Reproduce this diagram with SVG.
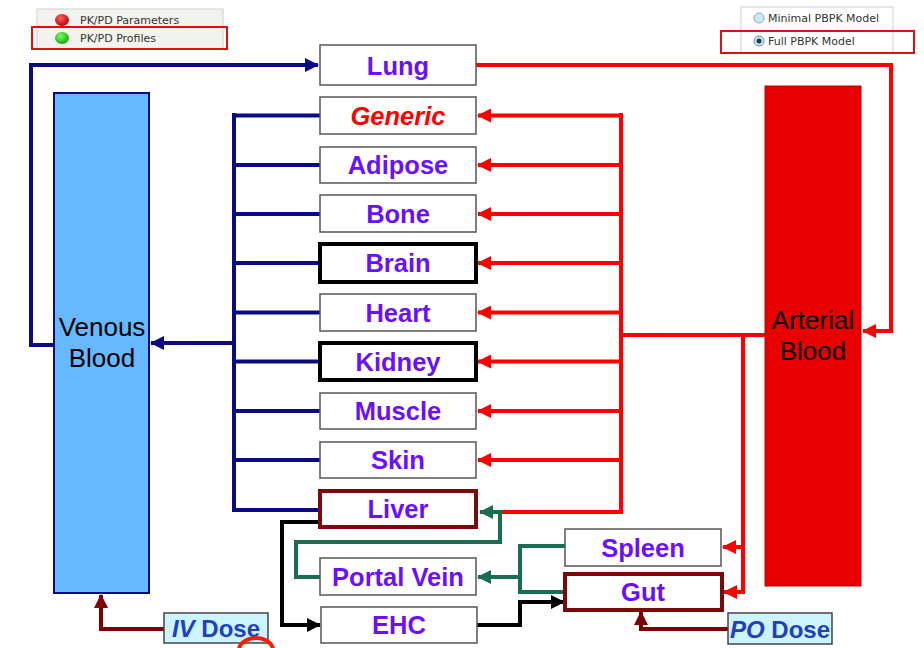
<svg xmlns="http://www.w3.org/2000/svg" width="924" height="648" viewBox="0 0 924 648">
<defs>
<style>
.org rect{fill:#ffffff;stroke:#555;stroke-width:1.5}
.org text{font-family:"Liberation Sans",Arial,sans-serif;font-weight:bold;font-size:25.5px;fill:#6a10ff;text-anchor:middle}
.thick rect{stroke:#000;stroke-width:4}
.liv rect{stroke:#7a0a0a;stroke-width:4}
.nv{stroke:#0a0a82;stroke-width:4;fill:none}
.rd{stroke:#ff0000;stroke-width:4;fill:none}
.gr{stroke:#1a6e50;stroke-width:4;fill:none}
.bk{stroke:#000;stroke-width:4;fill:none}
.dr{stroke:#800000;stroke-width:4;fill:none}
.lbl{font-family:"Liberation Sans",Arial,sans-serif;font-size:26px;fill:#000;text-anchor:middle}
.ui{font-family:"DejaVu Sans","Liberation Sans",sans-serif;font-size:11px;fill:#333}
.dose{font-family:"Liberation Sans",Arial,sans-serif;font-weight:bold;font-size:24px;fill:#2040c0;text-anchor:middle}
</style>
<marker id="aN" markerUnits="userSpaceOnUse" markerWidth="14" markerHeight="14" refX="13" refY="7" orient="auto"><path d="M0,0 L14,7 L0,14 z" fill="#0a0a82"/></marker>
<marker id="aR" markerUnits="userSpaceOnUse" markerWidth="14" markerHeight="14" refX="13" refY="7" orient="auto"><path d="M0,0 L14,7 L0,14 z" fill="#ff0000"/></marker>
<marker id="aG" markerUnits="userSpaceOnUse" markerWidth="14" markerHeight="14" refX="13" refY="7" orient="auto"><path d="M0,0 L14,7 L0,14 z" fill="#1a6e50"/></marker>
<marker id="aK" markerUnits="userSpaceOnUse" markerWidth="14" markerHeight="14" refX="13" refY="7" orient="auto"><path d="M0,0 L14,7 L0,14 z" fill="#000"/></marker>
<marker id="aD" markerUnits="userSpaceOnUse" markerWidth="14" markerHeight="14" refX="13" refY="7" orient="auto"><path d="M0,0 L14,7 L0,14 z" fill="#800000"/></marker>
<radialGradient id="gRed" cx="0.4" cy="0.35" r="0.7"><stop offset="0" stop-color="#ff6060"/><stop offset="1" stop-color="#b00000"/></radialGradient>
<radialGradient id="gGrn" cx="0.4" cy="0.35" r="0.7"><stop offset="0" stop-color="#80ff60"/><stop offset="1" stop-color="#10a010"/></radialGradient>
</defs>

<!-- UI widgets -->
<g id="pkpd-panel">
<rect x="37" y="9" width="186" height="40" fill="#f2f2ee" stroke="#cfcfcf" stroke-width="1"/>
<ellipse cx="62" cy="20" rx="7" ry="6" fill="url(#gRed)"/>
<text class="ui" x="80" y="24">PK/PD Parameters</text>
<rect x="32" y="27" width="195" height="22" fill="none" stroke="#e01010" stroke-width="2"/>
<ellipse cx="62" cy="38" rx="7" ry="6" fill="url(#gGrn)"/>
<text class="ui" x="80" y="42">PK/PD Profiles</text>
</g>
<g id="model-panel">
<rect x="741" y="7" width="152" height="46" fill="#ffffff" stroke="#d0d0d0" stroke-width="1"/>
<circle cx="759" cy="18" r="5" fill="#cfe8f4" stroke="#7fb0c8" stroke-width="1"/>
<text class="ui" x="768" y="22">Minimal PBPK Model</text>
<rect x="721" y="31" width="193" height="22" fill="none" stroke="#e01010" stroke-width="2"/>
<circle cx="759" cy="41" r="5" fill="#cfe8f4" stroke="#6090a0" stroke-width="1"/>
<circle cx="759" cy="41" r="2.5" fill="#204040"/>
<text class="ui" x="768" y="45">Full PBPK Model</text>
</g>

<!-- connectors -->
<g id="connectors">
<path class="nv" d="M55,345 H31 V65 H318" marker-end="url(#aN)"/>
<path class="nv" d="M234,113 V512"/>
<path class="nv" d="M234,115.5 H320 M234,165 H320 M234,214 H320 M234,263 H320 M234,312.5 H320 M234,361.5 H320 M234,411 H320 M234,460 H320 M232,510 H320"/>
<path class="nv" d="M236,343 H151" stroke-width="5" marker-end="url(#aN)"/>
<path class="rd" d="M476,65 H891 V331 H863" marker-end="url(#aR)"/>
<path class="rd" d="M765,335 H621"/>
<path class="rd" d="M621,113 V512 H498"/>
<path class="rd" d="M621,115.5 H478" marker-end="url(#aR)"/>
<path class="rd" d="M621,165 H478" marker-end="url(#aR)"/>
<path class="rd" d="M621,214 H478" marker-end="url(#aR)"/>
<path class="rd" d="M621,263 H478" marker-end="url(#aR)"/>
<path class="rd" d="M621,312.5 H478" marker-end="url(#aR)"/>
<path class="rd" d="M621,361.5 H478" marker-end="url(#aR)"/>
<path class="rd" d="M621,411 H478" marker-end="url(#aR)"/>
<path class="rd" d="M621,460 H478" marker-end="url(#aR)"/>
<path class="rd" d="M743,335 V592"/>
<path class="rd" d="M743,547 H723" marker-end="url(#aR)"/>
<path class="rd" d="M745,592 H724" marker-end="url(#aR)"/>
<path class="gr" d="M500,512 H480" marker-end="url(#aG)"/>
<path class="gr" d="M500,510 V542 H296 V577 H320"/>
<path class="gr" d="M565,546 H520 V592 H564"/>
<path class="gr" d="M520,577 H478" marker-end="url(#aG)"/>
<path class="bk" d="M322,522 H282 V625 H320" marker-end="url(#aK)"/>
<path class="bk" d="M477,625 H520 V602 H564" marker-end="url(#aK)"/>
<path class="dr" d="M164,629 H101 V595" marker-end="url(#aD)"/>
<path class="dr" d="M728,629 H641 V612" marker-end="url(#aD)"/>
</g>

<!-- blood pools -->
<g id="venous">
<rect x="54" y="93" width="95" height="500" fill="#66b8ff" stroke="#0a0a82" stroke-width="2"/>
<text class="lbl" x="102" y="336">Venous</text>
<text class="lbl" x="102" y="367">Blood</text>
</g>
<g id="arterial">
<rect x="765" y="86" width="96" height="500" fill="#e80000" stroke="#c00000" stroke-width="1"/>
<text class="lbl" x="813" y="329">Arterial</text>
<text class="lbl" x="813" y="360">Blood</text>
</g>

<!-- organs -->
<g id="lung" class="org"><rect x="320" y="45" width="156" height="40"/><text x="398" y="75">Lung</text></g>
<g id="generic" class="org"><rect x="320" y="97" width="156" height="37"/><text x="398" y="125" style="fill:#ff0000;font-style:italic">Generic</text></g>
<g id="adipose" class="org"><rect x="320" y="147" width="156" height="36"/><text x="398" y="174">Adipose</text></g>
<g id="bone" class="org"><rect x="320" y="195" width="156" height="37"/><text x="398" y="223">Bone</text></g>
<g id="brain" class="org thick"><rect x="320" y="244" width="156" height="38"/><text x="398" y="272">Brain</text></g>
<g id="heart" class="org"><rect x="320" y="294" width="156" height="37"/><text x="398" y="322">Heart</text></g>
<g id="kidney" class="org thick"><rect x="320" y="343" width="156" height="37"/><text x="398" y="371">Kidney</text></g>
<g id="muscle" class="org"><rect x="320" y="393" width="156" height="36"/><text x="398" y="420">Muscle</text></g>
<g id="skin" class="org"><rect x="320" y="442" width="156" height="36"/><text x="398" y="469">Skin</text></g>
<g id="liver" class="org liv"><rect x="320" y="491" width="156" height="36"/><text x="398" y="518">Liver</text></g>
<g id="portal-vein" class="org"><rect x="320" y="558" width="156" height="37"/><text x="398" y="586">Portal Vein</text></g>
<g id="ehc" class="org"><rect x="321" y="607" width="156" height="36"/><text x="399" y="634">EHC</text></g>
<g id="spleen" class="org"><rect x="565" y="529" width="156" height="37"/><text x="643" y="557">Spleen</text></g>
<g id="gut" class="org liv"><rect x="565" y="574" width="157" height="36"/><text x="643" y="601">Gut</text></g>

<!-- doses -->
<g id="iv-dose"><rect x="164" y="613" width="104" height="30" fill="#ccf4ff" stroke="#444" stroke-width="1.5"/><text class="dose" x="216" y="637"><tspan font-style="italic">IV</tspan> Dose</text></g>
<g id="po-dose"><rect x="728" y="613" width="104" height="31" fill="#ccf4ff" stroke="#444" stroke-width="1.5"/><text class="dose" x="780" y="638"><tspan font-style="italic">PO</tspan> Dose</text></g>

<path d="M239,650 A17,12 0 0 1 273,650" fill="none" stroke="#ff1a00" stroke-width="4"/>
</svg>
